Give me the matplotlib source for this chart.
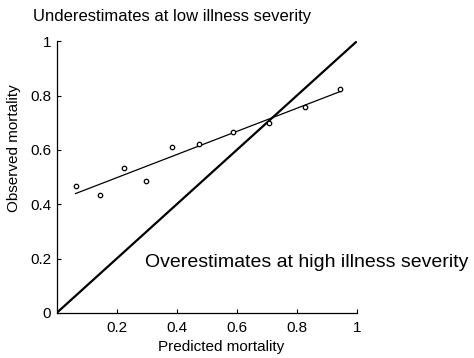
import numpy as np
import matplotlib
matplotlib.use("Agg")
import matplotlib.pyplot as plt

plt.rcParams['font.family'] = ['Liberation Sans', 'DejaVu Sans']

# calibration points
predicted = np.array([0.063, 0.145, 0.223, 0.297, 0.383, 0.473, 0.587, 0.709, 0.826, 0.945])
observed = np.array([0.468, 0.435, 0.535, 0.487, 0.611, 0.623, 0.666, 0.701, 0.757, 0.826])

x_ticks = [0.2, 0.4, 0.6, 0.8, 1]
x_tick_labels = ['0.2', '0.4', '0.6', '0.8', '1']
y_ticks = [0, 0.2, 0.4, 0.6, 0.8, 1]
y_tick_labels = ['0', '0.2', '0.4', '0.6', '0.8', '1']

fig = plt.figure(figsize=(4.74, 3.58), dpi=100)
ax = fig.add_axes([56.7 / 474, 1 - 312.9 / 358, 300 / 474, 271.5 / 358])

# identity line (perfect calibration)
ax.plot([0, 1], [0, 1], color='black', lw=1.6, solid_capstyle='butt')

# linear fit through the points
slope, intercept = np.polyfit(predicted, observed, 1)
x = np.array([predicted.min(), predicted.max()])
ax.plot(x, slope * x + intercept, color='black', lw=0.9)

ax.plot(predicted, observed, 'o', ms=3.2, mfc='white', mec='black', mew=0.9)

ax.set_xlim(0, 1)
ax.set_ylim(0, 1)
ax.set_xticks(x_ticks)
ax.set_xticklabels(x_tick_labels)
ax.set_yticks(y_ticks)
ax.set_yticklabels(y_tick_labels)
ax.tick_params(direction='in', length=3, width=0.8, labelsize=11, pad=4)
ax.tick_params(axis='x', pad=6)
for side in ['top', 'right']:
    ax.spines[side].set_visible(False)
for side in ['left', 'bottom']:
    ax.spines[side].set_linewidth(0.9)

ax.set_xlabel('Predicted mortality', fontsize=11)
ax.set_ylabel('Observed mortality', fontsize=11)
ax.xaxis.set_label_coords(0.548, -0.1)
ax.yaxis.set_label_coords(-0.118, 0.607)

fig.text(33 / 474, 1 - 17 / 358, 'Underestimates at low illness severity',
         fontsize=12, ha='left', va='center')
ax.text(0.294, 0.184, 'Overestimates at high illness severity',
        fontsize=14, ha='left', va='center', clip_on=False)

fig.savefig('out.png', dpi=100)
